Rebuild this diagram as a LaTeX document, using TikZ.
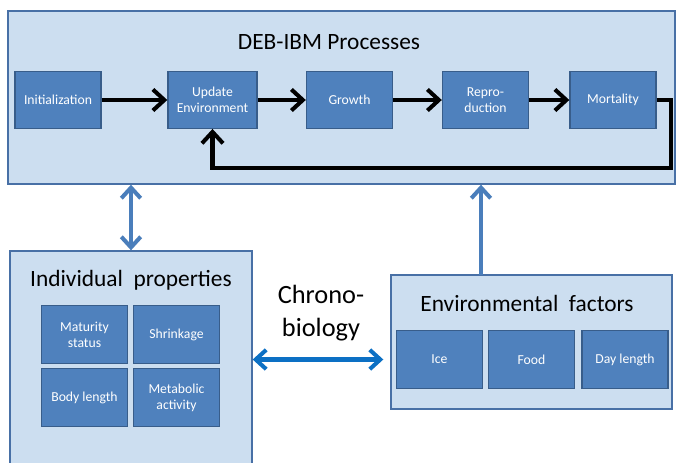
\documentclass[tikz,border=0pt]{standalone}
\usepackage{fontspec}
\setmainfont{Carlito}
\usepackage{tikz}
\usetikzlibrary{positioning}
\usetikzlibrary{arrows.meta}
\definecolor{panelfill}{RGB}{204,222,240}
\definecolor{paneldraw}{RGB}{72,112,166}
\definecolor{boxfill}{RGB}{79,129,189}
\definecolor{boxdraw}{RGB}{56,93,138}
\definecolor{linkcol}{RGB}{74,126,187}
\definecolor{chronocol}{RGB}{12,112,196}
\tikzset{
  panel/.style={draw=paneldraw, fill=panelfill, line width=0.8pt, inner sep=0pt},
  procbox/.style={draw=boxdraw, fill=boxfill, line width=0.8pt, text=white,
    minimum width=1.72cm, minimum height=1.13cm, inner sep=1pt, align=center,
    font=\fontsize{7.8}{9.2}\selectfont},
  paneltitle/.style={font=\fontsize{13.3}{16}\selectfont},
  flow/.style={line width=2.3pt, -{Straight Barb[length=6.5pt,width=12pt]}},
  link/.style={line width=2.3pt, draw=linkcol},
  barb/.style={-{Straight Barb[length=6pt,width=11pt]}},
  twobarb/.style={{Straight Barb[length=6pt,width=11pt]}-{Straight Barb[length=6pt,width=11pt]}},
}

\begin{document}
\begin{tikzpicture}[x=0.02cm, y=-0.02cm]
\useasboundingbox (0,0) rectangle (676,463);

% ---------------- Panels ----------------
\node[panel, minimum width=13.34cm, minimum height=3.46cm] (deb) at (341.5,97.5) {};
\node[panel, minimum width=4.84cm, minimum height=4.48cm] (indiv) at (131,363) {};
\node[panel, minimum width=5.62cm, minimum height=2.68cm] (env) at (531.5,342) {};

\node[paneltitle] (debtitle) at (329,42) {DEB-IBM Processes};
\node[paneltitle] (indivtitle) at (131,280) {Individual\ \ properties};
\node[paneltitle] (envtitle) at (527,303) {Environmental\ \ factors};

% ---------------- DEB-IBM process chain ----------------
\node[procbox] (init) at (58,100) {Initialization};
\node[procbox, minimum width=1.78cm] (update) at (212.5,100) {Update\\Environment};
\node[procbox] (growth) at (349.5,100) {Growth};
\node[procbox] (repro) at (485.5,100) {Repro-\\duction};
\node[procbox] (mort) at (613,100) {Mortality};

\foreach \a/\b in {init/update, update/growth, growth/repro, repro/mort}{
  \draw[flow] (\a) -- (\b);
}

% loop back to environment update
\coordinate (loopR) at (671,168);
\draw[flow, line join=miter] (mort.east) -| (loopR) -| (update.south);

% ---------------- Individual properties ----------------
\node[procbox, minimum height=1.15cm] (maturity) at (84.5,334.5) {Maturity\\status};
\node[procbox, minimum height=1.15cm] (shrink) at (176.5,334.5) {Shrinkage};
\node[procbox, minimum height=1.15cm] (body) at (84.5,397.5) {Body length};
\node[procbox, minimum height=1.15cm] (metab) at (176.5,397.5) {Metabolic\\activity};

% ---------------- Environmental factors ----------------
\node[procbox, minimum height=1.15cm] (ice) at (439.5,359.5) {Ice};
\node[procbox, minimum height=1.15cm] (food) at (531.5,359.5) {Food};
\node[procbox, minimum height=1.15cm] (day) at (625,359.5) {Day length};

% ---------------- Links between panels ----------------
\draw[link, twobarb] (indiv.north) -- (indiv.north |- deb.south);

\coordinate (envup) at (481,275);
\draw[link, barb] (envup) -- (envup |- deb.south);

\node[font=\fontsize{15}{18.5}\selectfont, align=center] (chrono) at (321,313) {Chrono-\\biology};
\draw[link, twobarb, draw=chronocol, shorten >=4pt] (indiv.east |- ice) -- (env.west |- ice);

\end{tikzpicture}
\end{document}
